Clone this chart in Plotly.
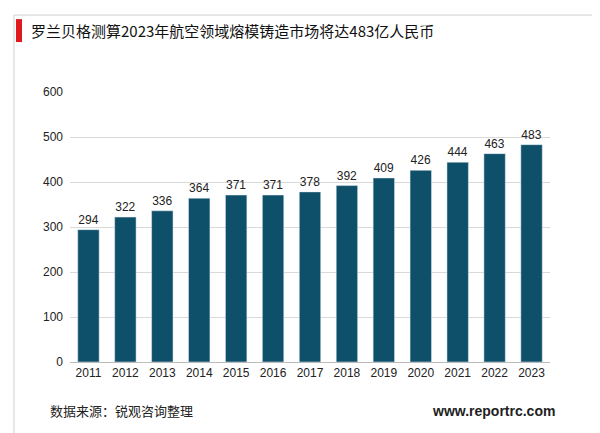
import plotly.graph_objects as go

years = ["2011","2012","2013","2014","2015","2016","2017","2018","2019","2020","2021","2022","2023"]
values = [294,322,336,364,371,371,378,392,409,426,444,463,483]
title = "罗兰贝格测算2023年航空领域熔模铸造市场将达483亿人民币"
source = "数据来源：锐观咨询整理"
site = "www.reportrc.com"

font = "Noto Sans CJK SC"
fig = go.Figure(go.Bar(x=years, y=values, text=values, textposition="outside",
                       marker_color="#0e4f69", width=0.58,
                       textfont=dict(size=12, color="#222", family="Arial")))
W = 600 - 62 - 58
fig.update_layout(
    width=600, height=433, plot_bgcolor="white", paper_bgcolor="white",
    margin=dict(l=62, r=58, t=84, b=79), showlegend=False,
    font=dict(family=font, color="#222"),
    xaxis=dict(tickfont=dict(size=12, family="Arial"), showline=True, linecolor="#bbb", ticks=""),
    yaxis=dict(range=[0,600], dtick=100, tickfont=dict(size=12, family="Arial"),
               gridcolor="#d9d9d9", zeroline=False, ticks="", ticklabelstandoff=6),
    shapes=[
        dict(type="rect", xref="paper", yref="paper", x0=(6-62)/W, x1=(592-62)/W, y0=-0.265, y1=1.285,
             line=dict(color="#cfcfcf", width=1)),
        dict(type="rect", xref="paper", yref="paper", x0=(8-62)/W, x1=(14-62)/W, y0=1.185, y1=1.27,
             fillcolor="#e0191f", line_width=0),
    ],
    annotations=[
        dict(text=title, xref="paper", yref="paper", x=(21-62)/W, y=1.228, xanchor="left", yanchor="middle",
             showarrow=False, font=dict(size=15, color="#111", family=font)),
        dict(text=source, xref="paper", yref="paper", x=(40-62)/W, y=-0.181, xanchor="left", yanchor="middle",
             showarrow=False, font=dict(size=13, color="#222", family=font)),
        dict(text="<b>"+site+"</b>", xref="paper", yref="paper", x=(549-62)/W, y=-0.181, xanchor="right", yanchor="middle",
             showarrow=False, font=dict(size=14, color="#222", family="Arial")),
    ],
)
fig.write_html("out.html")
